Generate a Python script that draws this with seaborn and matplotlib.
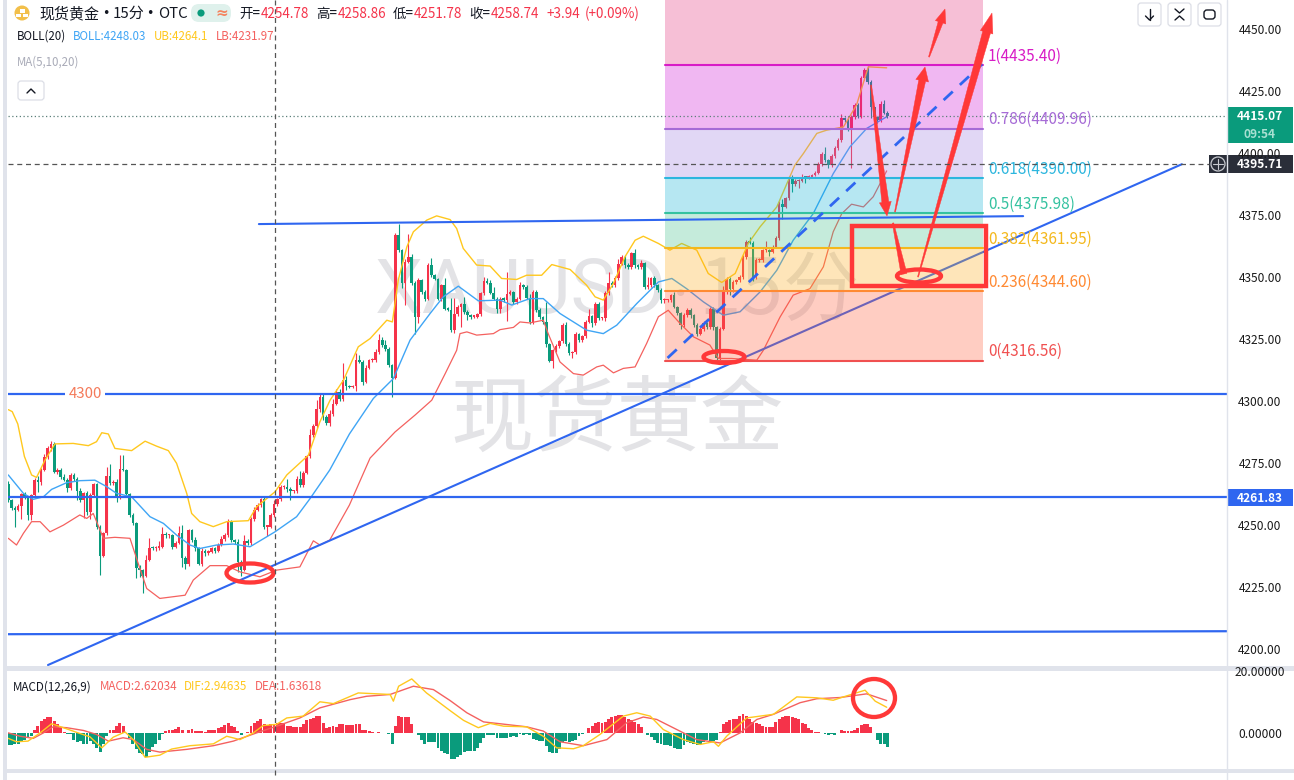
import numpy as np
import pandas as pd
import seaborn as sns
import matplotlib.pyplot as plt
from matplotlib.patches import Ellipse, FancyBboxPatch, Polygon, Rectangle, Circle

W, H = 1294, 780

first_open = 4267.0
closes = [
    4260.4,4257.4,4256.4,4258.0,4262.8,4261.7,4254.4,4262.4,4268.4,4267.8,
    4272.7,4277.8,4281.2,4282.9,4271.8,4272.7,4269.5,4268.4,4265.1,4270.5,
    4268.7,4264.1,4260.4,4263.1,4255.7,4262.4,4266.8,4249.7,4237.8,4247.0,
    4270.1,4267.1,4267.8,4261.5,4273.1,4272.5,4262.8,4254.4,4251.0,4233.2,
    4232.2,4229.9,4236.2,4241.3,4240.9,4241.3,4241.6,4246.7,4246.3,4246.3,
    4241.6,4243.2,4247.0,4237.2,4234.5,4248.3,4244.3,4240.9,4234.6,4240.0,
    4239.2,4239.6,4240.9,4240.0,4242.3,4244.6,4246.3,4251.7,4244.3,4243.6,
    4235.6,4232.2,4244.0,4243.0,4252.6,4256.4,4258.4,4260.7,4249.7,4249.7,
    4254.4,4258.8,4260.7,4265.5,4265.5,4264.7,4264.0,4264.0,4268.7,4266.4,
    4271.4,4278.1,4286.6,4290.2,4297.0,4302.0,4294.0,4291.3,4295.0,4299.0,
    4304.0,4301.0,4308.7,4306.2,4306.0,4306.2,4316.7,4316.0,4308.0,4313.6,
    4316.7,4316.7,4320.1,4324.8,4322.8,4321.4,4314.7,4309.6,4367.0,4361.0,
    4347.6,4356.3,4358.3,4347.8,4334.2,4348.9,4344.2,4341.5,4355.0,4350.9,
    4349.3,4341.5,4346.9,4337.5,4337.1,4328.8,4335.2,4338.2,4339.3,4336.2,
    4334.8,4334.2,4334.2,4335.2,4343.6,4348.6,4347.8,4343.8,4341.5,4337.5,
    4341.5,4341.1,4343.5,4344.2,4340.2,4341.5,4346.9,4346.0,4341.9,4332.1,
    4344.2,4337.1,4333.9,4332.1,4323.1,4316.4,4320.7,4322.3,4324.5,4330.8,
    4323.4,4319.4,4320.1,4327.2,4324.8,4326.4,4332.1,4334.4,4331.7,4339.3,
    4333.5,4333.5,4343.6,4347.8,4346.9,4349.6,4355.6,4358.3,4355.0,4354.3,
    4359.7,4355.0,4354.3,4355.9,4346.2,4346.9,4349.6,4346.9,4345.0,4340.9,
    4340.9,4340.9,4342.9,4338.2,4335.5,4330.8,4334.8,4337.1,4334.8,4330.8,
    4327.4,4329.4,4331.5,4330.1,4337.5,4330.1,4317.4,4329.4,4344.9,4349.2,
    4345.5,4348.2,4348.9,4350.2,4358.3,4364.3,4364.0,4350.2,4357.0,4357.2,
    4361.0,4361.0,4360.3,4362.3,4365.7,4379.5,4378.4,4381.8,4389.8,4387.8,
    4388.9,4388.9,4390.5,4390.2,4390.5,4391.2,4392.1,4395.6,4399.9,4397.2,
    4395.2,4398.8,4402.3,4405.3,4414.0,4413.3,4410.0,4414.7,4419.4,4414.9,
    4430.1,4433.7,4428.8,4418.7,4414.7,4413.3,4420.0,4416.4,4415.07,
]
wick_up = [
    1.0,0.6,0.5,0.8,0.5,1.0,0.5,0.6,1.0,1.5,
    0.8,1.0,1.0,1.2,0.8,0.5,0.8,1.5,1.0,0.8,
    0.6,1.0,1.2,0.5,0.8,1.0,0.5,0.6,0.8,0.5,
    3.8,5.0,0.6,1.0,5.4,5.4,0.6,0.5,0.6,0.5,
    1.0,0.5,2.0,4.0,0.6,0.8,2.5,3.0,1.0,0.6,
    0.5,0.6,3.0,3.2,0.8,0.5,0.6,1.2,0.6,1.2,
    0.5,0.6,0.8,0.5,1.0,1.3,1.0,1.2,0.5,0.6,
    1.0,0.8,2.3,0.8,1.0,1.2,0.8,0.5,1.0,0.6,
    0.6,1.5,0.6,1.0,0.8,3.2,0.8,0.6,1.2,3.5,
    0.8,0.6,2.5,1.0,3.5,1.5,1.0,0.8,1.5,2.0,
    1.0,1.2,7.0,1.5,0.5,0.5,3.0,2.2,0.8,1.0,
    0.6,0.8,1.2,2.5,1.2,2.2,0.8,0.5,0.8,4.4,
    0.6,1.2,9.4,1.3,0.8,0.8,0.5,0.8,0.7,3.0,
    0.5,0.5,0.6,2.7,0.5,4.8,6.7,0.8,0.6,3.0,
    0.8,0.5,0.5,0.6,0.5,1.7,1.2,1.2,2.4,0.5,
    0.5,0.5,8.8,0.6,0.5,0.5,1.3,0.6,1.0,1.6,
    0.8,0.6,0.5,0.5,8.1,0.6,0.5,0.8,0.5,0.8,
    1.3,0.6,0.5,1.0,0.6,0.5,0.8,3.1,0.5,1.0,
    0.9,0.5,1.0,4.5,0.8,1.0,2.0,0.8,0.8,1.0,
    0.4,1.8,0.5,1.0,0.5,3.4,0.5,0.8,0.6,0.8,
    0.8,0.6,0.6,1.2,0.5,0.6,0.8,0.6,0.5,0.5,
    0.8,0.6,0.8,0.6,0.8,0.5,0.5,0.8,1.5,1.0,
    0.8,0.6,0.5,0.8,0.6,0.7,2.0,0.5,0.8,0.8,
    0.6,3.8,0.5,0.8,0.8,1.2,2.0,0.6,1.0,1.5,
    0.8,0.6,1.2,0.5,0.8,0.6,0.8,0.8,0.8,2.5,
    0.5,0.8,0.8,0.8,2.0,0.8,1.8,0.8,1.0,0.8,
    1.0,0.6,1.5,0.6,0.5,0.5,1.2,1.4,0.5,
]
wick_dn = [
    0.8,1.0,7.0,0.6,5.4,0.8,2.1,2.1,0.5,4.0,
    1.4,0.8,0.8,1.0,0.6,0.8,0.8,0.5,1.5,0.8,
    0.8,3.8,0.8,7.4,1.5,3.0,0.8,0.8,7.6,0.5,
    0.5,0.5,0.8,1.8,0.5,0.6,0.8,1.0,0.6,4.3,
    2.7,6.9,0.6,0.5,0.8,1.2,1.0,0.6,1.0,1.2,
    0.8,0.6,0.5,3.7,2.0,0.5,0.6,1.0,0.5,0.8,
    1.5,1.0,0.6,1.0,0.6,0.5,0.8,0.6,0.8,0.8,
    4.1,2.2,0.5,0.8,0.6,0.6,0.5,0.6,0.8,3.8,
    0.7,0.8,0.6,0.5,0.8,1.0,3.5,0.6,0.8,0.6,
    0.8,0.6,0.8,1.0,0.8,1.0,1.5,0.8,1.0,0.8,
    0.5,0.8,0.8,1.5,0.6,0.6,2.0,0.6,1.2,0.6,
    0.5,0.6,0.6,0.8,0.8,0.8,0.6,7.7,0.5,0.8,
    2.0,8.7,0.6,1.0,6.8,2.7,0.8,0.8,0.6,0.8,
    0.5,0.5,0.8,0.6,0.6,0.8,1.1,0.6,8.3,0.8,
    2.0,0.8,0.6,0.6,0.8,0.6,0.5,0.5,0.6,1.8,
    2.0,0.8,8.6,0.6,1.0,0.8,0.6,0.6,0.6,0.8,
    0.8,0.8,0.8,0.8,1.0,0.6,3.0,0.6,0.6,0.8,
    0.8,0.6,2.0,0.8,0.6,0.6,0.6,0.6,1.8,0.8,
    0.8,0.8,1.0,0.5,0.6,0.6,0.8,0.6,1.0,0.8,
    1.0,1.2,1.0,0.8,0.8,0.8,0.6,0.8,0.8,1.0,
    1.0,0.8,0.8,0.6,0.8,1.5,0.8,0.8,1.0,0.8,
    1.0,0.6,0.8,0.8,0.8,1.2,0.7,0.5,0.5,1.5,
    2.6,1.5,1.0,0.6,1.0,0.8,0.6,1.5,1.0,0.8,
    0.8,0.8,1.8,0.6,0.6,0.8,4.7,0.6,0.8,3.3,
    0.8,2.7,0.6,2.0,0.6,0.6,0.5,0.6,0.6,0.8,
    1.0,0.6,0.6,0.8,0.8,0.8,1.0,16.1,0.8,0.8,
    0.8,0.6,0.8,4.7,0.8,1.2,0.8,0.6,0.8,
]

upper_x = [0,1.2,2.9,4.9,7.1,8.6,11.2,14.2,19.8,24.4,26.9,28.5,30.5,32.5,37.6,41.7,45.2,48.8,51.3,54.4,55.9,58.4,62.5,66.6,73.2,75.7,81.3,84.9,91.5,95,
           98.1,102.2,106.7,110.3,115.4,117.1,118.9,121.5,123.5,127.6,130.6,134.7,136.7,138.7,142.8,146.9,150.4,155,158,162.6,165.7,171.3,176.3,178.9,181.4,184.5,188,191.1,193.6,198.2,
           201.7,205.3,209.9,213.4,217.5,221.6,225.6,229.2,234.3,239.8,242.4,246.5,249.5,254.6,258.6,262.2,267.8]
upper_y = [4296.8,4296,4291,4278,4270.5,4269.5,4276.5,4283,4283.2,4282.3,4283.9,4287.5,4287,4281.2,4280.3,4284.1,4282.1,4280.3,4275.2,4263.1,4255,4251.7,4249.7,4251.7,4252.1,4257.7,4263.7,4270.5,4278.5,4291.9,
           4300.6,4308.7,4322.1,4325.4,4332.8,4332.1,4349,4362.3,4368.4,4373.1,4374.8,4373.3,4369.7,4361.7,4355,4354.6,4349.6,4349.2,4350.9,4350.9,4355.2,4353.2,4346.9,4342.2,4340.9,4347.6,4358.3,4365,4366.6,4363.7,
           4361,4363.7,4361,4351.6,4348,4351.6,4363.7,4370.4,4378.4,4395.2,4399.9,4408,4409.3,4410.6,4419.4,4434.8,4434.4]
mid_x = [0,4.6,7.6,10.7,13.2,17.8,21.8,26.4,30,33,37.6,43.2,47.3,51.3,55.4,58.4,63.5,68.6,73.7,81.3,87.9,92,98,104,
         111.3,117.4,122.5,128.6,132.6,137.2,143.3,149.9,153.5,159,163.1,168.2,176.3,181.4,185.5,191.6,198.2,
         202.3,206.8,211.9,218,223.1,229.2,234.3,239.3,245.4,251.5,256.6,261.7,267.8]
mid_y = [4270.5,4263.1,4260.7,4261.7,4264.7,4267.4,4268.2,4268.4,4265.8,4263.1,4261.7,4253.7,4251,4246.3,4242.3,4240.9,4242.3,4242.7,4241.6,4247.6,4253.7,4261,4272.5,4287,
         4301.3,4309.3,4324.8,4335.5,4342.2,4346.5,4340.6,4340.9,4338.9,4341.5,4341.5,4335.5,4328.8,4327.4,4330.8,4339.5,4348.2,
         4349.6,4345.5,4340.2,4334.8,4336.2,4344.2,4352.9,4365,4375.7,4391.8,4402.6,4410,4414.7]
lower_x = [0,2.5,4.6,7.1,9.7,12.7,16.8,21.8,23.9,25.9,29,32.5,37.1,39.6,42.2,46.2,53.9,56.4,61.5,66.6,70.6,76.7,81.8,88.9,93,95,98,104,110.3,117.9,124,
           129.1,133.2,136.7,137.7,139.8,142.8,147.9,149.9,154,156,159,163.1,164.6,168.2,172.3,175.3,179.4,181.4,184.5,187.5,191.1,194.6,198.2,
           201.2,204.8,208.9,213.9,216.5,220.5,228.2,230.2,235.3,239.3,244.4,248.5,251.5,254.1,257.1,260.7,263.7,267.8]
lower_y = [4245,4242.3,4247,4251.7,4251.7,4247.6,4250.3,4254.4,4253,4255,4245,4245.4,4245,4234.9,4224.8,4220.8,4222.1,4228.2,4234,4234,4231.5,4229.5,4232.2,4233.5,4244,4242.3,4244.3,4258.4,4277.3,4287.8,4294.6,
           4300.6,4311.3,4320.7,4327.4,4328.1,4326.8,4327.4,4329,4329.9,4332.1,4331.7,4332.8,4327.4,4316,4311.3,4310.7,4314,4314.7,4311.6,4313.4,4314,4323.4,4334.2,
           4336.8,4331.5,4326.1,4322.8,4317.4,4317.4,4316.7,4320.7,4334.1,4342.9,4345.5,4354.3,4368.4,4375.7,4379.5,4378.4,4382.5,4392.9]

macd_hist = [
    -3.9,-3.9,-3.6,-3.3,-2.9,-2.2,-1.4,-0.8,1.3,2.4,
    4.0,4.6,5.4,5.3,4.0,3.2,1.9,0.5,-0.3,-0.3,-2.0,
    -2.7,-2.3,-3.6,-3.4,-2.3,-3.6,-4.7,-6.0,-3.6,-0.9,
    1.1,1.3,2.6,3.3,2.4,0.0,-1.6,-3.6,-5.0,-6.3,-6.7,
    -7.8,-6.0,-4.5,-3.6,-2.0,-0.3,0.8,1.3,1.3,1.6,
    2.1,1.3,0.1,1.3,1.6,0.8,0.8,0.8,0.5,1.0,
    1.0,1.0,1.9,2.2,2.7,3.3,2.6,2.1,0.8,-0.5,
    0.1,0.4,2.4,3.5,4.0,4.9,3.2,2.7,3.2,3.2,
    3.6,3.6,3.3,2.6,2.4,2.2,2.1,2.1,3.0,4.3,
    4.6,5.1,5.9,5.7,3.5,1.9,2.2,2.4,2.2,3.0,
    3.0,2.7,2.7,2.8,3.0,3.0,1.3,1.0,0.8,0.4,0.2,
    0.4,0.2,0.0,-0.3,-3.6,2.6,5.7,5.4,5.4,5.4,
    3.2,0.0,-0.5,-2.0,-3.3,-2.7,-2.7,-2.7,-4.7,-5.6,
    -6.3,-6.7,-8.2,-8.2,-7.8,-6.9,-6.0,-5.8,-5.6,-5.6,
    -4.7,-3.1,-1.4,-0.5,-0.5,-0.5,-1.6,-1.6,-1.6,-1.6,-1.2,
    -0.9,-1.2,-0.1,-0.5,-0.2,-0.5,-1.7,-2.0,-2.3,-2.5,
    -4.2,-6.0,-6.3,-6.3,-5.2,-2.7,-2.5,-2.7,-2.5,-2.0,
    -0.9,-0.3,0.2,1.9,2.6,3.5,3.7,3.4,3.8,4.9,
    5.4,5.6,6.0,6.2,5.4,4.9,4.3,3.8,3.2,2.2,
    0.2,-0.5,-1.1,-2.2,-3.1,-3.6,-3.9,-3.9,-4.2,-4.7,
    -5.2,-5.2,-3.8,-2.7,-3.1,-3.6,-3.9,-3.6,-2.7,-2.0,
    -2.3,-2.5,-2.0,0.4,3.0,3.7,4.3,4.6,4.6,5.7,
    6.4,5.7,4.6,3.7,3.5,3.2,2.4,2.2,2.2,2.2,
    3.8,4.6,5.4,5.7,5.6,5.4,5.1,4.6,3.5,3.0,1.9,
    1.0,0.4,0.5,0.2,-0.1,-0.5,-0.1,-0.5,0.2,1.1,
    0.8,0.8,0.8,1.0,1.9,2.7,3.0,3.0,2.2,0.2,-2.0,
    -3.3,-3.6,-4.5,
]
dif_x = [0,2.5,6,9.7,13.2,16.8,21.3,24.9,28.5,32,35.6,38.1,41.7,46.2,49.8,55.4,62.5,66.6,70.6,74.7,77.7,81.8,84.9,89.9,95,99.1,106.7,116.4,117.4,119,123,127.5,134.7,
         138.8,143.3,146.9,151,158,163.1,167.2,172.3,175.3,180.4,187.5,191.6,195.7,199.7,205.8,210.9,215,216.5,219,225.1,233.3,240.4,246.5,251.5,254.6,261.2,264.3,267.8]
dif_y = [-1.6,-2.7,-2.5,0.2,3.2,1.9,0.2,-1.1,-4.7,-1.2,0.5,-2,-7.8,-7.1,-5.1,-4,-3.4,-0.9,-2,0.2,2.6,3,5.1,5.7,10.4,9.8,13.3,12.8,10.6,15.5,17.9,13.3,7.5,
         4.3,1.9,3.3,2.4,2.2,-0.9,-4.7,-5,-4,-0.3,5.7,6.8,5.7,1.3,-2,-3.6,-2.7,-4.2,-0.9,5.1,6.3,12,11.7,10.9,12,14.2,10.6,8.6]
dea_x = [0,3.6,7.6,10.7,13.7,17.8,22.9,26.9,30.5,35,38.1,42.2,46.2,54.4,62.5,68.6,75.7,81.8,88.9,95,104.2,109.2,116.4,123.5,129.6,134.7,
         139.8,144.9,149.9,158,163.1,168.2,175.3,182.5,188.5,193.6,197.7,203.8,209.9,217,223.1,228.2,233.3,241.4,246.5,253.6,261.7,267.8]
dea_y = [0.2,-0.9,-1.6,0.2,2.2,1.9,1,-0.3,-2.5,-1.4,-2,-5.2,-6.1,-5.2,-4,-2.5,0.2,2.4,5.1,8.4,11.1,12.2,12.8,15.5,14.4,10.8,
         6.8,3.8,3.2,2.2,0.8,-2.7,-4,-2,3.5,5.4,4.6,1.3,-2,-3.1,0.2,4.6,6.3,10.1,11.4,11.8,13,10.8]

fib_levels = ["1", "0.786", "0.618", "0.5", "0.382", "0.236", "0"]
fib_prices = [4435.40, 4409.96, 4390.00, 4375.98, 4361.95, 4344.60, 4316.56]
fib_line_colors = ["#d81cc6", "#a66bd6", "#2cb6de", "#35c2a0", "#f4b81c", "#ff8a33", "#f05050"]
fib_zone_colors = ["#e42d7a", "#d012d7", "#9e7dde", "#0fb2d7", "#41c08a", "#fcac19", "#ff5c37"]
fib_span = [200.2, 297.2]

level_4300 = 4303.1
level_support = 4261.83
last_price = 4415.07
cross_price = 4395.71
price_ticks = [4450, 4425, 4400, 4375, 4350, 4325, 4300, 4275, 4250, 4225, 4200]
macd_ticks = [20, 0]

bar_step = 3.28
bar_zero_px = 8.3

sns.set_theme(style="white", rc={"axes.grid": False})
plt.rcParams['font.family'] = ['Noto Sans CJK SC', 'DejaVu Sans']

UP = "#f5334a"
DOWN = "#0a9b7c"
BLUE = "#2f66f0"
RED = "#ff3838"
PANEL = "#e0e3eb"
INK = "#131722"

fig = plt.figure(figsize=(W / 100, H / 100), dpi=100, facecolor="white")


def pane(top, bottom):
    return fig.add_axes([8 / W, 1 - bottom / H, (1227 - 8) / W, (bottom - top) / H])


xlim = ((8 - bar_zero_px) / bar_step, (1227 - bar_zero_px) / bar_step)

ax = pane(0, 666)
ax.set_xlim(xlim)
ax.set_ylim(4193.6, 4461.7)
ax.axis("off")

# watermark
mark = "#e3e3e6"
ax.text(375 / W, 1 - 292 / H, "XAUUSD", transform=fig.transFigure, fontsize=55, family=["Roboto"],
        color=mark, va="center", ha="left", zorder=1)
ax.text(681 / W, 1 - 295 / H, "•", transform=fig.transFigure, fontsize=24, color=mark, va="center", ha="center", zorder=1)
ax.text(698 / W, 1 - 292 / H, "15分", transform=fig.transFigure, fontsize=55,
        color=mark, va="center", ha="left", zorder=1)
ax.text(617 / W, 1 - 421 / H, "现货黄金", transform=fig.transFigure, fontsize=60,
        color=mark, va="center", ha="center", zorder=1)

# candles
closes = np.array(closes)
opens = np.r_[first_open, closes[:-1]]
bars = np.arange(len(closes))
highs = np.maximum(opens, closes) + np.array(wick_up)
lows = np.minimum(opens, closes) - np.array(wick_dn)
colors = [UP if c >= o else DOWN for o, c in zip(opens, closes)]
ax.vlines(bars, lows, highs, colors=colors, lw=0.8, zorder=2)
heights = np.maximum(np.abs(closes - opens), 0.5)
ax.bar(bars, heights, bottom=np.minimum(opens, closes), width=0.8, color=colors, edgecolor="none", linewidth=0, zorder=2.1)

# bollinger bands
sns.lineplot(x=upper_x, y=upper_y, color="#ffc81e", lw=1.0, ax=ax, errorbar=None, zorder=2.5)
sns.lineplot(x=mid_x, y=mid_y, color="#3fa5f5", lw=1.0, ax=ax, errorbar=None, zorder=2.5)
sns.lineplot(x=lower_x, y=lower_y, color="#f4615f", lw=0.9, ax=ax, errorbar=None, zorder=2.5)

# trend lines, drawn under the fib zones
ax.plot([12.1, 357.8], [4194.0, 4395.6], color=BLUE, lw=1.5, zorder=3)
ax.plot(xlim, [level_4300, level_4300], color=BLUE, lw=1.6, zorder=3)
ax.plot(xlim, [level_support, level_support], color=BLUE, lw=1.6, zorder=3)
ax.plot(xlim, [4206.4, 4207.6], color=BLUE, lw=1.6, zorder=3)
ax.text((85 - bar_zero_px) / bar_step, level_4300, "4300", color="#f47a5a", fontsize=10.8, va="center", ha="center",
        bbox=dict(fc="white", ec="none", pad=2), zorder=3.2)

# fibonacci retracement
top_edges = [4461.7] + fib_prices[:-1]
for col, hi, lo in zip(fib_zone_colors, top_edges, fib_prices):
    ax.fill_between(fib_span, lo, hi, color=col, alpha=0.3, lw=0, zorder=4)
for lev, pr, col in zip(fib_levels, fib_prices, fib_line_colors):
    ax.plot(fib_span, [pr, pr], color=col, lw=1.5, zorder=4.5)
    ax.text(fib_span[1] + 1.5, pr + 3.6, f"{lev}({pr:.2f})", color=col, fontsize=11, va="center", ha="left", zorder=6)

ax.plot([76.4, 309.4], [4371.5, 4374.7], color=BLUE, lw=1.5, zorder=5)
ax.plot([201, 296.9], [4317.6, 4435.9], color=BLUE, lw=2, ls=(0, (4.5, 3.5)), zorder=5)
ax.plot(xlim, [last_price, last_price], color="#5a7f78", lw=0.9, ls=(0, (1, 2)), zorder=5)

# macd pane
ax2 = pane(670, 769)
hist = pd.DataFrame({"bar": np.arange(len(macd_hist)), "value": macd_hist})
hist["side"] = np.where(hist["value"] >= 0, "up", "down")
sns.barplot(data=hist, x="bar", y="value", hue="side", palette={"up": UP, "down": DOWN}, native_scale=True,
            dodge=False, width=0.9, errorbar=None, legend=False, saturation=1, linewidth=0, edgecolor="none", ax=ax2, zorder=2)
sns.lineplot(x=dea_x, y=dea_y, color="#f4615f", lw=1.0, ax=ax2, errorbar=None, zorder=3)
sns.lineplot(x=dif_x, y=dif_y, color="#ffc81e", lw=1.0, ax=ax2, errorbar=None, zorder=3)
ax2.set_xlim(xlim)
ax2.set_ylim(-11.64, 20.82)
ax2.axis("off")

# everything below sits on a pixel overlay: chrome, labels and the hand drawn marks
ov = fig.add_axes([0, 0, 1, 1], zorder=5)
ov.set_xlim(0, W)
ov.set_ylim(H, 0)
ov.axis("off")

ov.add_patch(Rectangle((3, 0), 4, H, color=PANEL, lw=0))
ov.add_patch(Rectangle((7, 666), 1287, 4.5, color=PANEL, lw=0))
ov.add_patch(Rectangle((7, 769), 1287, 4, color=PANEL, lw=0))
ov.plot([1227, 1227], [0, H], color=PANEL, lw=1)

for t in price_ticks:
    y = 29 + (4450 - t) * 2.484
    ov.text(1260, y + 1, f"{t:.2f}", fontsize=8.6, color="#1a1a1a", ha="center", va="center")
for t in macd_ticks:
    y = 733 - t * 3.05
    ov.text(1260, y + 1, f"{t:.5f}", fontsize=8.6, color="#1a1a1a", ha="center", va="center")

# price tags
ov.add_patch(Rectangle((1228, 107), 65, 36, color=DOWN, lw=0))
ov.text(1260, 117, "4415.07", fontsize=8.6, color="white", weight="bold", ha="center", va="center")
ov.text(1260, 135, "09:54", fontsize=8.6, color="#a8e0d2", weight="bold", ha="center", va="center")
ov.add_patch(Rectangle((1209, 155), 84, 18, color="#2a2e39", lw=0))
ov.text(1260, 165, "4395.71", fontsize=8.6, color="white", weight="bold", ha="center", va="center")
ov.add_patch(Circle((1218, 164), 7, fc="none", ec="#c8cad0", lw=0.9))
ov.plot([1213, 1223], [164, 164], color="#c8cad0", lw=0.8)
ov.plot([1218, 1218], [159, 169], color="#c8cad0", lw=0.8)
ov.add_patch(Rectangle((1228, 489), 65, 16.5, color=BLUE, lw=0))
ov.text(1260, 498, "4261.83", fontsize=8.6, color="white", weight="bold", ha="center", va="center")

# crosshair
ov.plot([275, 275], [0, 778], color="#555555", lw=0.9, ls=(0, (4, 3)))
ov.plot([8, 1209], [164, 164], color="#555555", lw=0.9, ls=(0, (4, 3)))

# header
ov.add_patch(Circle((22, 13), 7.5, color="#f2bf4a", lw=0))
for bx, by in [(19.5, 9), (16, 13.5), (23, 13.5)]:
    ov.add_patch(Rectangle((bx, by), 5, 3.5, color="white", lw=0))
for px, s in [(39, "现货黄金"), (113, "15分"), (158, "OTC")]:
    ov.text(px, 14, s, fontsize=10.8, color=INK, va="center", ha="left")
for px in [106, 150]:
    ov.text(px, 13, "•", fontsize=9, color=INK, va="center", ha="center", family=["DejaVu Sans"])
ov.add_patch(FancyBboxPatch((191, 4), 40, 18, boxstyle="round,pad=0,rounding_size=8", fc="#dff1ec", ec="none", lw=0))
ov.add_patch(Circle((201, 13), 3.6, color=DOWN, lw=0))
ov.text(222, 13, "≈", fontsize=11, color="#f4845f", ha="center", va="center", family=["DejaVu Sans"], weight="bold")

header_parts = [(239, "开=", INK), (261, "4254.78", UP), (316, "高=", INK), (338, "4258.86", UP),
                (393, "低=", INK), (414, "4251.78", UP), (469, "收=", INK), (491, "4258.74", UP),
                (546, "+3.94", UP), (585, "(+0.09%)", UP)]
for px, s, c in header_parts:
    ov.text(px, 14, s, fontsize=9.7, color=c, va="center", ha="left")

ov.text(17, 36, "BOLL(20)", fontsize=8.3, color=INK, va="center", ha="left")
ov.text(73, 36, "BOLL:4248.03", fontsize=8.3, color="#3fa5f5", va="center", ha="left")
ov.text(154, 36, "UB:4264.1", fontsize=8.3, color="#ffc81e", va="center", ha="left")
ov.text(216, 36, "LB:4231.97", fontsize=8.3, color="#f4615f", va="center", ha="left")
ov.text(17, 62, "MA(5,10,20)", fontsize=8.3, color="#a9abb8", va="center", ha="left")

ov.text(13, 687, "MACD(12,26,9)", fontsize=8.4, color=INK, va="center", ha="left")
ov.text(100, 687, "MACD:2.62034", fontsize=8.4, color="#f4615f", va="center", ha="left")
ov.text(184, 687, "DIF:2.94635", fontsize=8.4, color="#ffc81e", va="center", ha="left")
ov.text(255, 687, "DEA:1.63618", fontsize=8.4, color="#f4615f", va="center", ha="left")

# buttons
for bx, by, bw, bh in [(18, 81, 26, 19), (1138, 3, 23, 23), (1168, 3, 23, 23), (1198, 3, 23, 23)]:
    ov.add_patch(FancyBboxPatch((bx, by), bw, bh, boxstyle="round,pad=0,rounding_size=3", fc="white", ec="#dcdee6", lw=0.9))
ov.plot([27, 31, 35], [93, 89, 93], color=INK, lw=1)
ov.plot([1149.5, 1149.5], [9, 20], color=INK, lw=1)
ov.plot([1145.5, 1149.5, 1153.5], [16, 20, 16], color=INK, lw=1)
ov.plot([1175, 1179.5, 1184], [9, 13, 9], color=INK, lw=1)
ov.plot([1175, 1179.5, 1184], [20, 16, 20], color=INK, lw=1)
ov.add_patch(FancyBboxPatch((1204, 10), 11, 9, boxstyle="round,pad=0,rounding_size=3", fc="none", ec=INK, lw=1))


# hand drawn red marks
def taper(start, tip, w0, w1, head_len=0, head_w=0):
    start, tip = np.array(start, float), np.array(tip, float)
    d = tip - start
    length = np.hypot(*d)
    d = d / length
    n = np.array([-d[1], d[0]])
    neck = tip - d * head_len
    pts = [start + n * w0 / 2, neck + n * w1 / 2]
    if head_len:
        pts += [neck + n * head_w / 2, tip, neck - n * head_w / 2]
    pts += [neck - n * w1 / 2, start - n * w0 / 2]
    return Polygon(pts, closed=True, fc=RED, ec=RED, lw=0.3)


arrows = [((871, 85), (887, 216), 1, 7, 14, 12),
          ((895, 212), (925, 67), 1, 7, 14, 13),
          ((893, 223), (904, 274), 1.5, 6, 0, 0),
          ((918, 277), (992, 13), 1, 8, 20, 13),
          ((929, 57), (945, 9), 1, 5, 14, 11)]
for a in arrows:
    ov.add_patch(taper(*a))

ellipses = [(250, 573, 47, 19), (724, 357, 41, 12), (919, 276, 44, 13), (874, 698, 42, 38)]
for ex, ey, ew, eh in ellipses:
    ov.add_patch(Ellipse((ex, ey), ew, eh, fc="none", ec=RED, lw=3.1))
ov.add_patch(Rectangle((852, 226), 134, 60, fc="none", ec=RED, lw=3.2))

fig.savefig("out.png", dpi=100)
